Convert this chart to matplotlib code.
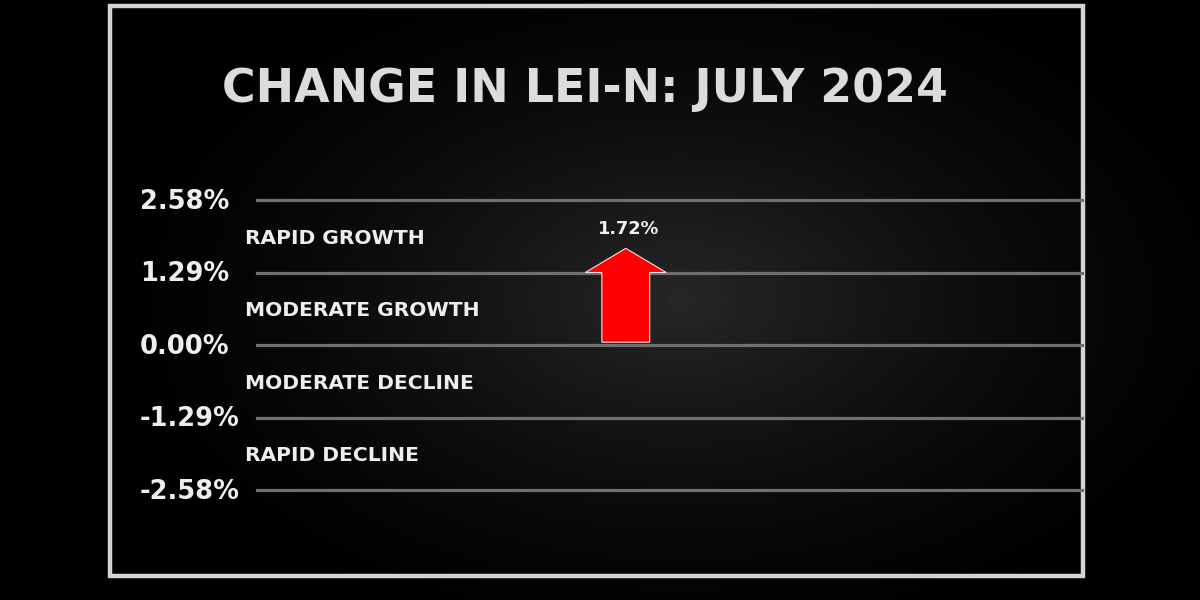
import numpy as np
import matplotlib.pyplot as plt
from matplotlib.patches import Rectangle, Polygon
from matplotlib.transforms import blended_transform_factory

# data
title = 'CHANGE IN LEI-N: JULY 2024'
levels = [2.58, 1.29, 0.00, -1.29, -2.58]
level_labels = ['2.58%', '1.29%', '0.00%', '-1.29%', '-2.58%']
zones = ['RAPID GROWTH', 'MODERATE GROWTH', 'MODERATE DECLINE', 'RAPID DECLINE']
value = 1.72
value_label = '1.72%'

plt.rcParams['font.family'] = ['DejaVu Sans']

fig = plt.figure(figsize=(12, 6), dpi=100, facecolor='black')

# background with soft glow
bg = fig.add_axes([0, 0, 1, 1])
yy, xx = np.mgrid[0:600, 0:1200]
r = np.sqrt(((xx - 680) / 620.0) ** 2 + ((yy - 300) / 380.0) ** 2)
glow = np.clip(1 - r, 0, 1) ** 1.6
bg.imshow(glow, cmap='gray', vmin=0, vmax=6.5, extent=[0, 1200, 600, 0], aspect='auto')
bg.set_xlim(0, 1200)
bg.set_ylim(600, 0)
bg.axis('off')
bg.add_patch(Rectangle((110, 6), 973, 570, fill=False, edgecolor='#d4d4d4', linewidth=3.2))

# plot area
ax = fig.add_axes([257 / 1200, 1 - 490 / 600, 825 / 1200, 290 / 600])
ax.set_xlim(0, 1)
ax.set_ylim(-2.58, 2.58)
ax.axis('off')
ax.patch.set_alpha(0)

for lv in levels:
    ax.axhline(lv, color='#6f6f6f', linewidth=2.3, clip_on=False)

trans = blended_transform_factory(fig.transFigure, ax.transData)
for lv, lab in zip(levels, level_labels):
    fig.text(140 / 1200, lv - 0.03, lab, transform=trans, ha='left', va='center',
             color='#eeeeee', fontsize=18.5, fontweight='bold')

mids = [(levels[i] + levels[i + 1]) / 2 for i in range(len(zones))]
for m, z in zip(mids, zones):
    ax.text(-12 / 825, m - 0.04, z, ha='left', va='center', color='#eeeeee',
            fontsize=14.6, fontweight='bold')

# arrow
cx, sw, hw = 0.447, 0.029, 0.049
head_base = 1.29
arrow = Polygon([(cx - sw, 0.05), (cx - sw, head_base), (cx - hw, head_base),
                 (cx, value), (cx + hw, head_base), (cx + sw, head_base),
                 (cx + sw, 0.05)], closed=True, facecolor='#ff0000',
                edgecolor='#ffdddd', linewidth=0.8, zorder=3)
ax.add_patch(arrow)
ax.text(cx + 0.003, value + 0.18, value_label, ha='center', va='bottom',
        color='#f2f2f2', fontsize=12.8, fontweight='bold')

fig.text(585 / 1200, 1 - 90 / 600, title, ha='center', va='center',
         color='#dcdcdc', fontsize=33, fontweight='bold')

fig.savefig('out.png', dpi=100, facecolor='black')
